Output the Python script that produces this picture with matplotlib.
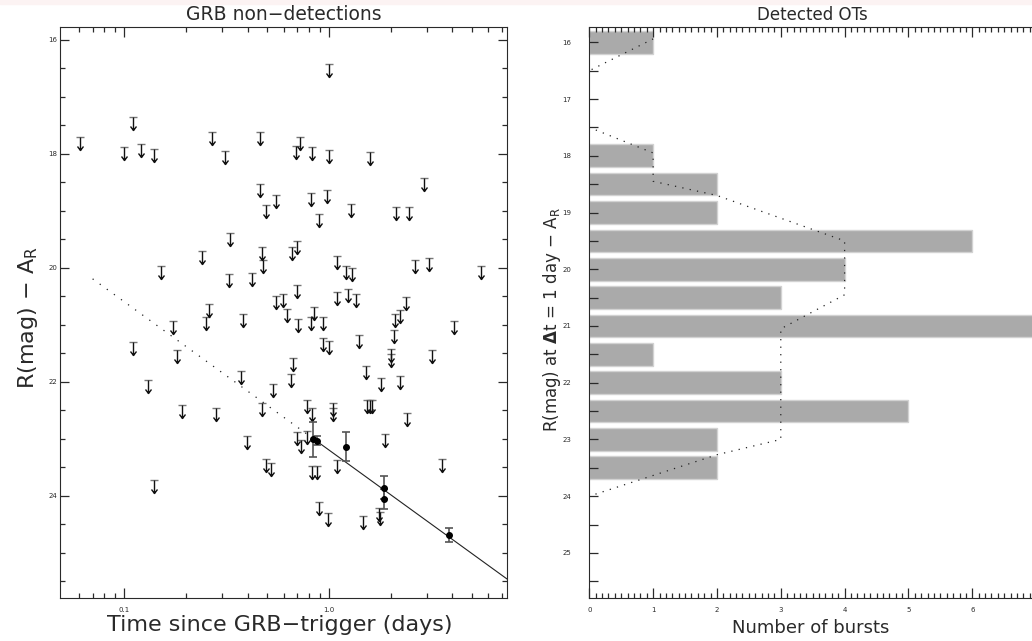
import numpy as np
import matplotlib
matplotlib.use("Agg")
import matplotlib.pyplot as plt
from matplotlib.path import Path
from matplotlib.patches import Rectangle

# upper limits (time in days, limiting R mag)
lim_t = [0.061, 0.110, 0.100, 0.121, 0.140, 0.269, 0.310, 0.460, 0.460, 0.551,
         0.491, 0.330, 0.239, 0.471, 0.476, 0.151, 0.324, 0.419, 0.260, 0.554,
         0.594, 0.378, 0.625, 1.000, 0.725, 0.687, 0.826, 1.000, 1.590, 2.910,
         0.816, 0.977, 1.280, 0.897, 2.120, 2.470, 0.658, 0.696, 1.100, 1.210,
         1.290, 2.620, 3.070, 5.550, 0.698, 1.100, 1.240, 1.350, 2.380, 0.841,
         0.172, 0.251, 0.110, 0.180, 0.130, 0.372, 0.531, 0.191, 0.279, 0.471,
         0.399, 0.491, 0.519, 0.140, 0.708, 0.816, 0.938, 2.100, 2.220, 4.080,
         2.080, 0.931, 0.996, 1.400, 2.000, 2.000, 3.190, 0.667, 0.652, 1.520,
         1.790, 2.220, 0.778, 0.830, 1.050, 1.050, 1.540, 1.590, 1.630, 2.410,
         0.700, 0.727, 0.784, 1.880, 1.100, 0.826, 0.877, 3.580, 0.897, 0.993,
         1.470, 1.760, 1.770]
lim_mag = [17.71, 17.36, 17.89, 17.84, 17.92, 17.62, 17.95, 17.62, 18.54, 18.73,
           18.90, 19.40, 19.71, 19.64, 19.87, 19.98, 20.11, 20.09, 20.63, 20.49,
           20.46, 20.81, 20.72, 16.43, 17.71, 17.87, 17.89, 17.93, 17.97, 18.42,
           18.69, 18.64, 18.88, 19.06, 18.94, 18.94, 19.63, 19.54, 19.80, 19.98,
           20.00, 19.86, 19.84, 19.98, 20.31, 20.43, 20.37, 20.46, 20.51, 20.69,
           20.93, 20.87, 21.30, 21.45, 21.97, 21.82, 22.04, 22.41, 22.47, 22.38,
           22.96, 23.35, 23.42, 23.72, 20.91, 20.87, 20.87, 20.82, 20.74, 20.93,
           21.10, 21.24, 21.28, 21.18, 21.43, 21.52, 21.45, 21.59, 21.86, 21.72,
           21.93, 21.91, 22.32, 22.47, 22.38, 22.46, 22.32, 22.32, 22.32, 22.55,
           22.88, 23.03, 22.87, 22.92, 23.37, 23.48, 23.48, 23.35, 24.11, 24.31,
           24.35, 24.21, 24.29]

# detected afterglow photometry
det_t = [0.838, 0.877, 1.205, 1.85, 1.85, 3.84]
det_mag = [23.01, 23.04, 23.14, 23.86, 24.06, 24.69]
det_err = [0.31, 0.08, 0.25, 0.20, 0.18, 0.13]

# power-law decay: R = fit_r1 + fit_slope * log10(t)
fit_r1 = 23.2
fit_slope = 2.6
fit_t_start, fit_t_break, fit_t_end = 0.07, 0.85, 7.41

# histogram of detected OTs at dt = 1 day
hist_mag = [16.0, 18.0, 18.5, 19.0, 19.5, 20.0, 20.5, 21.0, 21.5, 22.0, 22.5, 23.0, 23.5]
hist_n = [1, 1, 2, 2, 6, 4, 3, 7, 1, 3, 5, 2, 2]

# comparison distribution (dotted)
cmp_n = [1, 0, 0, 1, 1, 2, 4, 4, 3, 3, 2, 0]
cmp_mag = [15.94, 16.5, 17.5, 17.95, 18.45, 18.7, 19.5, 20.45, 21.05, 23.0, 23.27, 24.0]

ink = '#2a2a2a'
plt.rcParams['font.family'] = ['DejaVu Sans']
plt.rcParams['axes.edgecolor'] = ink
plt.rcParams['xtick.color'] = ink
plt.rcParams['ytick.color'] = ink

W, H = 1032, 641
fig = plt.figure(figsize=(W / 100, H / 100), dpi=100)
fig.patches.append(Rectangle((0, 1 - 4 / H), 1, 4 / H, transform=fig.transFigure,
                             color='#fcf3f3', zorder=0))

# upper-limit symbol: gray bar at the limit, black arrow pointing fainter.
# The unused MOVETO points keep both paths at the same scale.
bar_path = Path([(-4, 0), (4, 0), (0, -13), (0, 13)],
                [Path.MOVETO, Path.LINETO, Path.MOVETO, Path.MOVETO])
arrow_path = Path([(0, 0), (0, -13), (-3, -9), (0, -13), (3, -9)],
                  [Path.MOVETO, Path.LINETO, Path.MOVETO, Path.LINETO, Path.LINETO])
ms = 13 * 2 * 0.72

bottom = (H - 597.7) / H
height = 570.7 / H

# ---- left: non-detections ----
ax1 = fig.add_axes([60 / W, bottom, 447 / W, height])
ax1.set_xscale('log')
ax1.set_xlim(0.0485, 7.41)
ax1.set_ylim(25.79, 15.78)

ax1.plot(lim_t, lim_mag, linestyle='none', marker=bar_path, ms=ms,
         mec='#777777', mew=1.0, mfc='none')
ax1.plot(lim_t, lim_mag, linestyle='none', marker=arrow_path, ms=ms,
         mec='#111111', mew=1.0, mfc='none')

t_dot = np.logspace(np.log10(fit_t_start), np.log10(fit_t_break), 50)
t_sol = np.logspace(np.log10(fit_t_break), np.log10(fit_t_end), 50)
ax1.plot(t_dot, fit_r1 + fit_slope * np.log10(t_dot), color='#222222', lw=0.9,
         linestyle=(0, (1, 6)))
ax1.plot(t_sol, fit_r1 + fit_slope * np.log10(t_sol), color='#222222', lw=0.8)

ax1.errorbar(det_t, det_mag, yerr=det_err, fmt='o', color='black', ecolor='#555555',
             ms=4, elinewidth=1.2, capsize=2.9, capthick=1.2)

ax1.set_xticks([0.1, 1.0])
ax1.set_xticklabels(['0.1', '1.0'])
ax1.set_xticks([0.06, 0.07, 0.08, 0.09] + [k / 10 for k in range(2, 10)]
               + list(range(2, 8)), minor=True)
ax1.xaxis.set_minor_formatter(plt.NullFormatter())
ax1.set_yticks([16, 18, 20, 22, 24])
ax1.set_yticks(np.arange(16.5, 25.6, 0.5), minor=True)
ax1.tick_params(axis='both', which='both', direction='in', top=True, right=True,
                labelsize=5, width=0.9)
ax1.tick_params(axis='x', which='major', length=7.5, pad=7)
ax1.tick_params(axis='x', which='minor', length=3.8)
ax1.tick_params(axis='y', which='major', length=6.5, pad=2)
ax1.tick_params(axis='y', which='minor', length=3.8)

fig.text(283.5 / W, 1 - 15 / H, 'GRB non\u2212detections', ha='center', va='center',
         fontsize=13.5, color=ink)
fig.text(280 / W, 1 - 625 / H, 'Time since GRB\u2212trigger (days)', ha='center',
         va='center', fontsize=16, color=ink)
fig.text(28.5 / W, 1 - 318 / H, 'R(mag) \u2212 A$_\\mathrm{R}$', ha='center',
         va='center', rotation=90, fontsize=16, color=ink)

# ---- right: histogram of detected OTs ----
ax2 = fig.add_axes([589.3 / W, bottom, 446.8 / W, height])
ax2.set_xlim(0, 7)
ax2.set_ylim(25.79, 15.73)

ax2.barh(hist_mag, hist_n, height=0.4, color='#aaaaaa', edgecolor='#d2d2d2',
         linewidth=1.0, zorder=1)
ax2.plot(cmp_n, cmp_mag, color='#222222', lw=0.9, linestyle=(0, (1, 5)), zorder=2)

ax2.set_xticks(range(0, 7))
ax2.set_xticks(np.arange(0, 7.01, 0.1), minor=True)
ax2.set_yticks(np.arange(16, 25.6, 0.5))
ax2.set_yticklabels([str(int(v)) if v == int(v) else '' for v in np.arange(16, 25.6, 0.5)])
ax2.tick_params(axis='both', which='both', direction='in', top=True, right=False,
                labelsize=5, width=0.9)
ax2.tick_params(axis='x', which='major', length=7.5, pad=7)
ax2.tick_params(axis='x', which='minor', length=3.8)
ax2.tick_params(axis='y', which='major', length=6.5, pad=13)

fig.text(812 / W, 1 - 15.5 / H, 'Detected OTs', ha='center', va='center',
         fontsize=12, color=ink)
fig.text(811 / W, 1 - 628 / H, 'Number of bursts', ha='center', va='center',
         fontsize=13, color=ink)
fig.text(552 / W, 1 - 320 / H, 'R(mag) at $\\mathbf{\\Delta}$t = 1 day \u2212 A$_\\mathrm{R}$',
         ha='center', va='center', rotation=90, fontsize=12, color=ink)

fig.savefig('out.png', dpi=100)
